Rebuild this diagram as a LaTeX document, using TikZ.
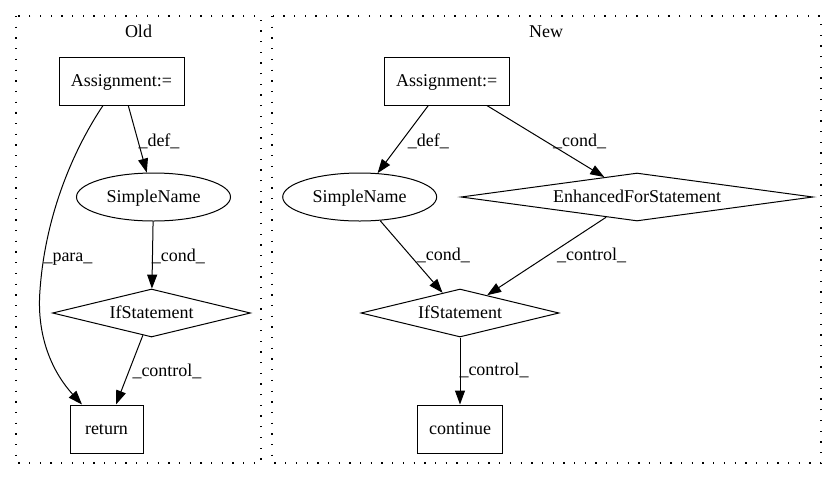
\documentclass[tikz,border=0pt]{standalone}
\usepackage{fontspec}
\setmainfont{Liberation Serif}
\usetikzlibrary{shapes.geometric,arrows.meta}
\begin{document}
\begin{tikzpicture}[x=1pt,y=-1pt,
  every node/.style={font=\fontsize{18}{20}\selectfont, inner sep=0pt, text height=11pt, text depth=0pt},
  boxnode/.style={draw, line width=1pt, rectangle},
  ellnode/.style={draw, line width=1pt, ellipse},
  dianode/.style={draw, line width=1pt, diamond},
  edgelbl/.style={anchor=base west, text height=, text depth=},
  clusterbox/.style={line width=1.2pt, dash pattern=on 1.3pt off 9.4pt},
  conn/.style={line width=1pt, -{Triangle[length=14pt,width=10pt]}}
]
\useasboundingbox (0,0) rectangle (837,480);
% clusters
\draw[clusterbox] (16,16) rectangle (261,463);
\draw[clusterbox] (272,16) rectangle (821,463);
\node[anchor=base, text height=, text depth=] (oldlbl) at (138.5,37) {Old};
\node[anchor=base, text height=, text depth=] (newlbl) at (546,37) {New};
% Old nodes
\node[boxnode, minimum width=125pt, minimum height=48pt] (oa) at (121.5,81) {Assignment:=};
\node[ellnode, minimum width=154pt, minimum height=48pt] (osn) at (153.5,197) {SimpleName};
\node[dianode, aspect=4.1, minimum width=198pt, minimum height=48pt] (oif) at (151.5,313) {IfStatement};
\node[boxnode, minimum width=73pt, minimum height=48pt] (oret) at (106.5,429) {return};
% New nodes
\node[boxnode, minimum width=125pt, minimum height=48pt] (na) at (446.7,81) {Assignment:=};
\node[ellnode, minimum width=154pt, minimum height=48pt] (nsn) at (359.7,197) {SimpleName};
\node[dianode, aspect=7.3, minimum width=352pt, minimum height=48pt] (nef) at (637,197) {EnhancedForStatement};
\node[dianode, aspect=4.1, minimum width=198pt, minimum height=48pt] (nif) at (460,313) {IfStatement};
\node[boxnode, minimum width=85pt, minimum height=48pt] (nc) at (460,429) {continue};
% Old edges
\draw[conn] (oa) -- (osn);
\draw[conn] ([xshift=-18.5pt]oa.south) .. controls (70,155) and (45,220) .. (40,290)
   .. controls (36,340) and (55,375) .. ([xshift=-24.5pt]oret.north);
\draw[conn] (osn) -- (oif);
\draw[conn] (oif) -- (oret);
\node[edgelbl] (ldef1) at (138.3,146) {\_def\_};
\node[edgelbl] (lpara) at (43.3,261) {\_para\_};
\node[edgelbl] (lcond1) at (151.7,261) {\_cond\_};
\node[edgelbl] (lctl1) at (132.3,376) {\_control\_};
% New edges
\draw[conn] (na) -- (nsn);
\draw[conn] (na) -- (nef);
\draw[conn] (nsn) -- (nif);
\draw[conn] (nef) -- (nif);
\draw[conn] (nif) -- (nc);
\node[edgelbl] (ldef2) at (407.7,146) {\_def\_};
\node[edgelbl] (lcond2) at (553,146) {\_cond\_};
\node[edgelbl] (lcond3) at (416.7,260) {\_cond\_};
\node[edgelbl] (lctl2) at (557,260) {\_control\_};
\node[edgelbl] (lctl3) at (459.3,375) {\_control\_};
\end{tikzpicture}
\end{document}
